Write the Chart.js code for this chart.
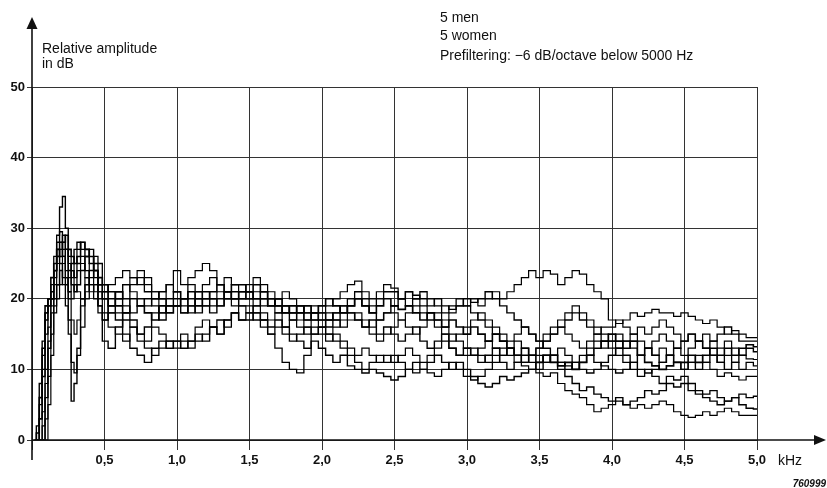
<!DOCTYPE html>
<html>
<head>
<meta charset="utf-8">
<script src="https://cdn.jsdelivr.net/npm/chart.js@4.4.1/dist/chart.umd.min.js"></script>
<style>
  html, body { margin: 0; padding: 0; background: #fff; }
  #wrap { width: 827px; height: 488px; position: relative; }
</style>
</head>
<body>
<div id="wrap"><canvas id="spectra" width="827" height="488"></canvas></div>
<script>
// frequency points in kHz (denser at the low end where the curves rise fast)
const freqsKHz = [
  0.02, 0.04, 0.06, 0.08, 0.10, 0.12, 0.14, 0.16, 0.18, 0.20, 0.22, 0.24, 0.26, 0.28, 0.30, 0.32, 0.35, 0.38, 0.41, 0.44, 0.47,
  0.50, 0.55, 0.60, 0.65, 0.70, 0.75, 0.80, 0.85, 0.90, 0.95,
  1.00, 1.05, 1.10, 1.15, 1.20, 1.25, 1.30, 1.35, 1.40, 1.45,
  1.50, 1.55, 1.60, 1.65, 1.70, 1.75, 1.80, 1.85, 1.90, 1.95,
  2.00, 2.05, 2.10, 2.15, 2.20, 2.25, 2.30, 2.35, 2.40, 2.45,
  2.50, 2.55, 2.60, 2.65, 2.70, 2.75, 2.80, 2.85, 2.90, 2.95,
  3.00, 3.05, 3.10, 3.15, 3.20, 3.25, 3.30, 3.35, 3.40, 3.45,
  3.50, 3.55, 3.60, 3.65, 3.70, 3.75, 3.80, 3.85, 3.90, 3.95,
  4.00, 4.05, 4.10, 4.15, 4.20, 4.25, 4.30, 4.35, 4.40, 4.45,
  4.50, 4.55, 4.60, 4.65, 4.70, 4.75, 4.80, 4.85, 4.90, 4.95,
  5.00
];

// relative amplitude in dB, one array per speaker
const spectrum1 = [
  0, 0, 3, 9, 15, 19, 20, 24, 28, 33, 34.5, 30, 17, 5.5, 8, 13, 19, 22, 24, 23, 19,
  14, 13, 16, 18, 17, 15, 16, 18, 17, 19,
  20, 19, 18, 20, 21, 20, 19, 21, 20, 21,
  21, 20, 21, 19, 20, 19, 18, 19, 18, 17,
  18, 17, 18, 19, 18, 17, 16, 17, 15, 16,
  15, 14, 15, 16, 14, 13, 14, 15, 13, 12,
  13, 12, 11, 12, 13, 11, 10, 11, 12, 11,
  10, 11, 12, 11, 10, 11, 10, 9.5, 10, 11,
  12, 13, 12, 11, 12, 13, 12, 11, 12, 11,
  10, 11, 10, 11, 12, 11, 10, 11, 12, 13,
  12.5
];
const spectrum2 = [
  0, 0, 0, 2, 8, 14, 19, 22, 25, 27, 28, 27, 25, 24, 23, 24, 25, 23, 21, 22, 21,
  20, 19, 20, 22, 21, 20, 19, 20, 18, 19,
  19, 18, 19, 20, 19, 20, 21, 20, 19, 20,
  20, 21, 20, 19, 20, 19, 18, 19, 17, 18,
  17, 18, 17, 16, 17, 18, 17, 16, 17, 18,
  18, 17, 16, 15, 16, 17, 18, 17, 18, 19,
  19, 20, 19, 20, 21, 20, 21, 22, 23, 24,
  23, 24, 23.5, 22, 23, 24, 23.5, 22, 21, 20,
  17, 16.5, 17, 18, 17.5, 18, 18.5, 18, 18, 17.5,
  18, 17.5, 17, 16.5, 17, 16, 15, 15.5, 15, 14.5,
  14.5
];
const spectrum3 = [
  0, 0, 5, 12, 18, 20, 22, 26, 29, 29.5, 27, 24, 21, 20, 22, 25, 26, 24, 22, 20, 18,
  17, 19, 21, 20, 22, 23, 21, 20, 21, 22,
  21, 20, 22, 21, 20, 19, 20, 21, 20, 19,
  19, 18, 17, 15, 13, 11, 10, 9.5, 12, 15,
  16, 17, 18, 19, 20, 21, 20, 19, 20, 21,
  21, 20, 19, 20, 21, 20, 19, 18, 19, 20,
  19, 18, 17, 16, 15, 14, 13, 14, 13, 12,
  12, 11, 12, 13, 12, 11, 12, 13, 14, 13,
  14, 15, 14, 13, 12, 13, 14, 15, 14, 13,
  12, 13, 14, 13, 12, 11, 12, 11, 10, 11,
  10.5
];
const spectrum4 = [
  0, 0, 0, 0, 3, 9, 15, 19, 22, 25, 26, 23, 20, 17, 15, 17, 20, 23, 25, 24, 21,
  18, 16, 15, 14, 16, 15, 14, 16, 15, 14,
  14, 15, 14, 16, 17, 16, 15, 17, 18, 19,
  18, 19, 18, 17, 18, 16, 17, 16, 15, 16,
  15, 14, 15, 14, 13, 12, 13, 12, 11, 12,
  11, 12, 13, 12, 11, 12, 13, 14, 13, 12,
  12, 13, 12, 11, 12, 13, 12, 11, 10.5, 10,
  9.5, 9, 9.5, 8, 7, 6.5, 6, 5, 4, 4.5,
  5, 5.5, 5, 4.5, 5, 4.5, 5, 5.5, 5, 4,
  3.5, 3.2, 3.5, 4, 3.5, 4, 4.5, 4, 3.5, 3.5,
  3.5
];
const spectrum5 = [
  0, 2, 8, 14, 18, 19, 20, 23, 26, 28, 29, 27, 24, 22, 21, 22, 24, 26, 27, 25, 22,
  20, 18, 17, 15, 13, 12, 11, 13, 14, 13,
  14, 13, 14, 15, 14, 16, 15, 17, 18, 17,
  17, 18, 17, 16, 17, 16, 15, 14, 13, 14,
  13, 12, 11, 12, 10.5, 10, 9.5, 10, 9.5, 9,
  8.5, 9, 10, 11, 10, 11, 12, 11, 10, 11,
  10, 9, 8, 7.5, 8, 9, 8.5, 9, 9.5, 10,
  11, 12, 11, 10, 9, 8, 7, 7.5, 6.5, 6,
  5.5, 6, 5, 5.5, 6, 7, 6.5, 7, 8, 7.5,
  8, 7, 6.5, 6, 5.5, 5, 5.5, 6, 5, 4.5,
  4.4
];
const spectrum6 = [
  0, 0, 0, 4, 10, 16, 20, 24, 27, 28, 26, 23, 21, 23, 25, 27, 28, 27, 25, 22, 19,
  17, 18, 20, 22, 23, 24, 22, 21, 20, 22,
  24, 22, 23, 24, 25, 24, 22, 23, 22, 21,
  22, 23, 22, 21, 20, 21, 20, 19, 18, 19,
  18, 19, 20, 21, 22, 22.5, 21, 20, 21, 22,
  21.5, 20, 21, 20, 19, 18, 17, 16, 15, 14,
  13, 12, 13, 14, 13, 12, 13, 12, 11, 12,
  13, 14, 15, 16, 15, 14, 13, 14, 15, 16,
  16, 17, 16, 15, 14, 13, 12, 13, 12, 11,
  10, 11, 12, 11, 10, 9, 9.5, 9, 8.5, 9,
  9
];
const spectrum7 = [
  0, 0, 3, 10, 17, 20, 21, 24, 26, 25, 22, 19, 15, 11, 9.5, 12, 16, 20, 23, 26, 25,
  22, 19, 18, 17, 16, 14, 13, 12, 13, 14,
  13, 14, 13, 14, 15, 16, 17, 16, 18, 17,
  18, 17, 16, 15, 16, 15, 14, 15, 16, 15,
  16, 15, 14, 13, 12, 11, 10, 11, 12, 11,
  12, 11, 10, 9.5, 10, 9.5, 9, 10, 11, 10,
  9, 8.5, 9, 10, 11, 12, 13, 12, 11, 12,
  13, 14, 15, 16, 17, 18, 17, 16, 15, 14,
  13, 12, 11, 10, 9, 10, 9, 8, 9, 8.5,
  9, 8, 7, 6.5, 7, 6, 5.5, 6, 6.5, 6,
  6.2
];
const spectrum8 = [
  0, 1, 6, 13, 19, 20, 23, 25, 27, 26, 28, 29, 27, 26, 25, 26, 28, 27, 26, 24, 23,
  22, 21, 19, 18, 20, 19, 18, 17, 19, 18,
  19, 20, 21, 19, 20, 21, 22, 21, 22, 22,
  21, 22, 21, 20, 19, 18, 19, 18, 19, 18,
  19, 20, 19, 18, 19, 20, 19, 18, 19, 20,
  19, 18.5, 19, 18, 17, 18, 17, 16, 17, 16,
  15, 16, 15, 14, 15, 14, 13, 12, 13, 12,
  11, 12, 11, 10.5, 11, 10, 11, 12, 13, 14,
  15, 14, 13, 14, 12, 11, 10.5, 10, 10.5, 11,
  11, 12, 11, 12, 13, 12, 13, 12, 13, 13.5,
  13.2
];
const spectrum9 = [
  0, 0, 0, 0, 0, 5, 12, 18, 20, 22, 25, 27, 26, 24, 22, 21, 20, 21, 22, 21, 20,
  21, 22, 23, 24, 23, 22, 23, 21, 20, 19,
  19, 18, 20, 21, 22, 23, 22, 21, 20, 21,
  20, 19, 20, 19, 18, 19, 18, 17, 16, 17,
  16, 15, 16, 17, 18, 17, 16, 15, 14, 15,
  16, 17, 18, 19, 18, 17, 16, 15, 14, 15,
  16, 17, 18, 17, 16, 15, 14, 15, 16, 15,
  14, 15, 16, 17, 18, 19, 18, 17, 16, 15,
  14, 13, 14, 15, 16, 15, 16, 17, 16, 15,
  14, 15, 14, 15, 14, 13, 14, 13, 12, 11.5,
  11.4
];
const spectrum10 = [
  0, 0, 0, 0, 6, 13, 18, 20, 22, 24, 23, 22, 23, 25, 27, 28, 27, 26, 25, 24, 22,
  21, 20, 21, 19, 18, 19, 20, 19, 18, 20,
  21, 20, 19, 18, 19, 18, 19, 20, 21, 20,
  21, 20, 19, 20, 19, 18, 17, 18, 17, 18,
  17, 16, 17, 18, 19, 20, 19, 18, 17, 18,
  19, 20, 21, 20.5, 20, 19, 20, 19, 18.5, 19,
  20, 19.5, 20, 21, 20, 19, 18, 17, 16, 15,
  14, 13, 12, 11, 10.5, 10, 11, 12, 11, 10.5,
  10, 9.5, 10, 11, 10, 9.5, 10, 11, 12, 13,
  14, 15, 14, 13, 14, 15, 16, 15, 14, 14,
  14
];

const allSpectra = [spectrum1, spectrum2, spectrum3, spectrum4, spectrum5,
                    spectrum6, spectrum7, spectrum8, spectrum9, spectrum10];
const lineWidths = [1.4, 1.2, 1.3, 1.2, 1.4, 1.2, 1.3, 1.6, 1.2, 1.4];

const fontFamily = '"Liberation Sans", Arial, Helvetica, sans-serif';
Chart.defaults.font.family = fontFamily;
Chart.defaults.color = '#111';

// axes with arrows + the free text of the figure
const decorations = {
  id: 'decorations',
  afterDraw(chart) {
    const ctx = chart.ctx;
    const a = chart.chartArea;
    ctx.save();
    ctx.strokeStyle = '#111';
    ctx.fillStyle = '#111';
    ctx.lineWidth = 1.6;

    // y axis, runs a little below the x axis
    ctx.beginPath();
    ctx.moveTo(a.left, a.bottom + 20);
    ctx.lineTo(a.left, 26);
    ctx.stroke();
    ctx.beginPath();
    ctx.moveTo(a.left, 17);
    ctx.lineTo(a.left - 5.5, 29);
    ctx.lineTo(a.left + 5.5, 29);
    ctx.closePath();
    ctx.fill();

    // x axis
    ctx.beginPath();
    ctx.moveTo(a.left, a.bottom);
    ctx.lineTo(816, a.bottom);
    ctx.stroke();
    ctx.beginPath();
    ctx.moveTo(826, a.bottom);
    ctx.lineTo(814, a.bottom - 5);
    ctx.lineTo(814, a.bottom + 5);
    ctx.closePath();
    ctx.fill();

    ctx.font = '14px ' + fontFamily;
    ctx.textBaseline = 'alphabetic';
    ctx.textAlign = 'left';
    ctx.fillText('Relative amplitude', 42, 53);
    ctx.fillText('in dB', 42, 68);
    ctx.fillText('5 men', 440, 22);
    ctx.fillText('5 women', 440, 40);
    ctx.fillText('Prefiltering: \u22126 dB/octave below 5000 Hz', 440, 60);

    ctx.font = '14px ' + fontFamily;
    ctx.textBaseline = 'middle';
    ctx.fillText('kHz', 778, 461);

    ctx.font = 'italic bold 10px ' + fontFamily;
    ctx.textAlign = 'right';
    ctx.fillText('760999', 826, 484);
    ctx.restore();
  }
};

const datasets = allSpectra.map((vals, idx) => ({
  data: freqsKHz.map((f, i) => ({ x: f, y: vals[i] })),
  borderColor: '#000',
  backgroundColor: 'transparent',
  borderWidth: lineWidths[idx],
  pointRadius: 0,
  stepped: 'middle',
  fill: false
}));

new Chart(document.getElementById('spectra'), {
  type: 'line',
  data: { datasets },
  options: {
    responsive: false,
    animation: false,
    layout: { padding: { top: 87, right: 70, left: 0, bottom: 0 } },
    plugins: {
      legend: { display: false },
      tooltip: { enabled: false },
      title: { display: false }
    },
    scales: {
      x: {
        type: 'linear',
        min: 0,
        max: 5,
        afterFit: s => { s.height = 48; },
        border: { display: false },
        grid: { color: '#333', lineWidth: 1, tickLength: 10, drawTicks: true },
        ticks: {
          stepSize: 0.5,
          padding: 3,
          maxRotation: 0,
          font: { size: 13, weight: 'bold' },
          color: '#111',
          callback: v => v === 0 ? '' : Number(v).toFixed(1).replace('.', ',')
        }
      },
      y: {
        min: 0,
        max: 50,
        afterFit: s => { s.width = 32; },
        border: { display: false },
        grid: { color: '#333', lineWidth: 1, tickLength: 5 },
        ticks: {
          stepSize: 10,
          padding: 2,
          font: { size: 13, weight: 'bold' },
          color: '#111'
        }
      }
    }
  },
  plugins: [decorations]
});
</script>
</body>
</html>
